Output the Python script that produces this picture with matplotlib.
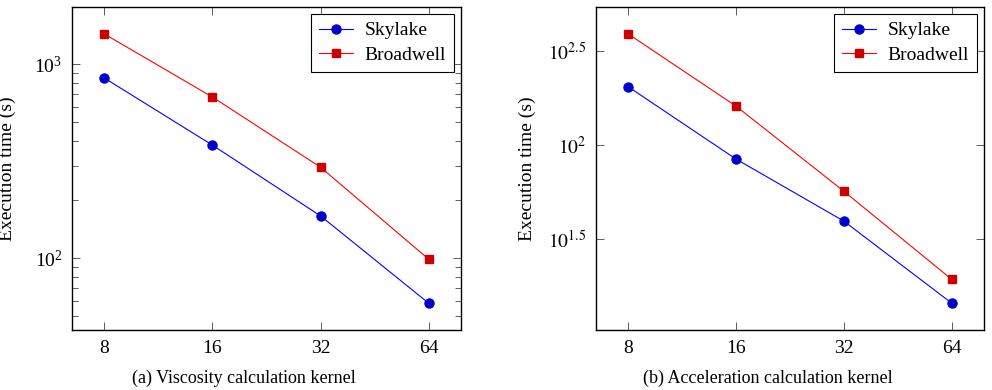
import numpy as np
import matplotlib
matplotlib.use("Agg")
import matplotlib.pyplot as plt
from matplotlib.ticker import FixedLocator, FixedFormatter, NullLocator, LogLocator, NullFormatter

plt.rcParams.update({
    "font.family": "serif",
    "font.serif": ["Liberation Serif", "DejaVu Serif"],
    "mathtext.fontset": "stix",
    "font.size": 14,
})

threads = [8, 16, 32, 64]
labels = ["Skylake", "Broadwell"]

# viscosity kernel (s)
visc_skylake = [847, 382, 165, 58.6]
visc_broadwell = [1429, 676, 294, 98.8]

# acceleration kernel (s)
acc_skylake = [204, 84.3, 39.5, 14.5]
acc_broadwell = [389, 161, 56.9, 19.4]

captions = ["(a) Viscosity calculation kernel", "(b) Acceleration calculation kernel"]

blue_fill = (0, 0, 0.8)
red_fill = (0.8, 0, 0)


def enlarge(lo, hi, frac=0.1):
    # pgfplots-style enlargelimits in log space
    a, b = np.log10(lo), np.log10(hi)
    d = (b - a) * frac
    return 10 ** (a - d), 10 ** (b + d)


def draw(ax, sky, bro):
    ax.plot(threads, sky, color="blue", lw=0.8, marker="o", ms=6.5,
            mfc=blue_fill, mec=blue_fill, label=labels[0])
    ax.plot(threads, bro, color="red", lw=0.8, marker="s", ms=6,
            mfc=red_fill, mec=red_fill, label=labels[1])
    ax.set_xscale("log", base=2)
    ax.set_yscale("log")
    ax.set_xlim(8 * 2 ** -0.3, 64 * 2 ** 0.3)
    ax.set_ylim(*enlarge(min(sky + bro), max(sky + bro)))
    ax.xaxis.set_major_locator(FixedLocator(threads))
    ax.xaxis.set_major_formatter(FixedFormatter([str(t) for t in threads]))
    ax.xaxis.set_minor_locator(NullLocator())
    ax.tick_params(which="both", direction="in", top=True, right=True, width=0.6, color="#444444")
    ax.tick_params(which="major", length=6, pad=7)
    ax.tick_params(which="minor", length=4)
    for s in ax.spines.values():
        s.set_linewidth(1.0)
    ax.set_ylabel("Execution time (s)")
    leg = ax.legend(loc="upper right", fancybox=False, edgecolor="black", framealpha=1,
                    borderaxespad=0.36, handlelength=1.75, borderpad=0.4, labelspacing=0.35,
                    handletextpad=0.6)
    leg.get_frame().set_linewidth(0.8)


fig = plt.figure(figsize=(9.92, 3.9), dpi=100)
ax1 = fig.add_axes([0.0726, 0.1538, 0.3921, 0.828])
ax2 = fig.add_axes([0.6008, 0.1538, 0.3911, 0.828])

draw(ax1, visc_skylake, visc_broadwell)
ax1.yaxis.set_major_locator(LogLocator(base=10))
ax1.yaxis.set_minor_locator(LogLocator(base=10, subs=np.arange(2, 10)))
ax1.yaxis.set_minor_formatter(NullFormatter())
ax1.yaxis.set_label_coords(-0.143, 0.5)

draw(ax2, acc_skylake, acc_broadwell)
ax2.yaxis.set_major_locator(FixedLocator([10 ** 1.5, 10 ** 2, 10 ** 2.5]))
ax2.yaxis.set_major_formatter(FixedFormatter([r"$10^{1.5}$", r"$10^{2}$", r"$10^{2.5}$"]))
ax2.yaxis.set_minor_locator(NullLocator())
ax2.yaxis.set_label_coords(-0.155, 0.5)

fig.text(0.246, 0.03, captions[0], ha="center", va="center", fontsize=13)
fig.text(0.774, 0.03, captions[1], ha="center", va="center", fontsize=13)

fig.savefig("out.png", dpi=100)
